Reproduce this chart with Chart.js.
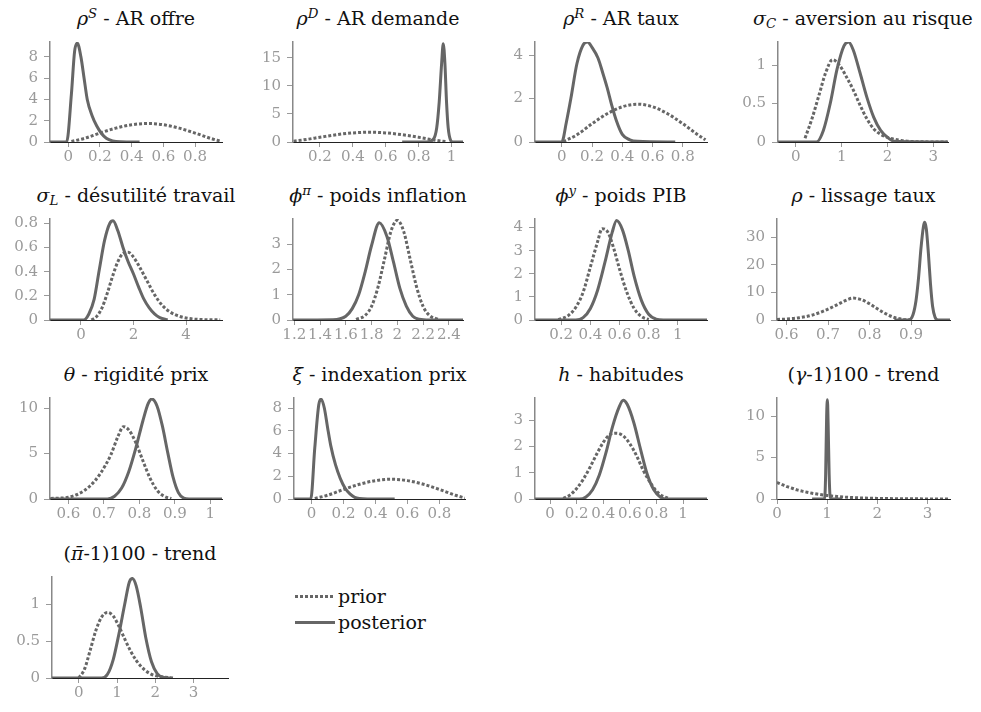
<!DOCTYPE html>
<html>
<head>
<meta charset="utf-8">
<script src="https://cdn.jsdelivr.net/npm/chart.js@4.4.1/dist/chart.umd.min.js"></script>
<style>
  body { margin: 0; background: #fff; }
  #wrap { position: relative; width: 981px; height: 712px; overflow: hidden; }
  canvas { position: absolute; }
  .title { position: absolute; height: 26px; line-height: 26px; text-align: center; white-space: nowrap;
           font-family: "DejaVu Serif", "Liberation Serif", serif; font-size: 19px; color: #111; }
  .title sup, .title sub { font-size: 0.7em; line-height: 0; }
  .title sup { vertical-align: 0.5em; }
  .title sub { vertical-align: -0.25em; }
  .leg { position: absolute; font-family: "DejaVu Serif", "Liberation Serif", serif; font-size: 19px; color: #111; line-height: 20px; }
  .legline { position: absolute; width: 40px; height: 3px; }
</style>
</head>
<body>
<div id="wrap"></div>
<script>
// panel titles
const titles = [
  '<i>ρ</i><sup><i>S</i></sup> - AR offre',
  '<i>ρ</i><sup><i>D</i></sup> - AR demande',
  '<i>ρ</i><sup><i>R</i></sup> - AR taux',
  '<i>σ</i><sub><i>C</i></sub> - aversion au risque',
  '<i>σ</i><sub><i>L</i></sub> - désutilité travail',
  '<i>ϕ</i><sup><i>π</i></sup> - poids inflation',
  '<i>ϕ</i><sup><i>y</i></sup> - poids PIB',
  '<i>ρ</i> - lissage taux',
  '<i>θ</i> - rigidité prix',
  '<i>ξ</i> - indexation prix',
  '<i>h</i> - habitudes',
  '(<i>γ</i>-1)100 - trend',
  '(<i>π̄</i>-1)100 - trend'
];

// axis limits and ticks
const xLimits = [[-0.115, 0.97], [0.036, 1.07], [-0.177, 0.96], [-0.39, 3.32],
                 [-1.18, 5.37], [1.19, 2.51], [0.02, 1.2], [0.577, 0.994],
                 [0.548, 1.033], [-0.11, 0.96], [-0.113, 1.18], [0, 3.45],
                 [-0.7, 3.9]];
const xTicks = [[0, 0.2, 0.4, 0.6, 0.8], [0.2, 0.4, 0.6, 0.8, 1], [0, 0.2, 0.4, 0.6, 0.8], [0, 1, 2, 3],
                [0, 2, 4], [1.2, 1.4, 1.6, 1.8, 2, 2.2, 2.4], [0.2, 0.4, 0.6, 0.8, 1], [0.6, 0.7, 0.8, 0.9],
                [0.6, 0.7, 0.8, 0.9, 1], [0, 0.2, 0.4, 0.6, 0.8], [0, 0.2, 0.4, 0.6, 0.8, 1], [0, 1, 2, 3],
                [0, 1, 2, 3]];
const yTops = [9.4, 17.8, 4.6, 1.3, 0.835, 4.0, 4.37, 36.7, 11.1, 8.9, 3.84, 12.2, 1.37];
const yTicks = [[0, 2, 4, 6, 8], [0, 5, 10, 15], [0, 2, 4], [0, 0.5, 1],
                [0, 0.2, 0.4, 0.6, 0.8], [0, 1, 2, 3], [0, 1, 2, 3, 4], [0, 10, 20, 30],
                [0, 5, 10], [0, 2, 4, 6, 8], [0, 1, 2, 3], [0, 5, 10],
                [0, 0.5, 1]];

// densities, [x, y]
const priorRhoS = [[0.02,0.05],[0.1,0.33],[0.2,0.84],[0.3,1.3],[0.4,1.62],[0.5,1.74],[0.6,1.62],[0.7,1.3],[0.8,0.84],[0.9,0.33],[0.96,0.08]];
const postRhoS = [[-0.115,0],[-0.01,0],[0.02,4.5],[0.04,8.5],[0.057,9.3],[0.08,8.0],[0.1,6.0],[0.12,4.0],[0.15,2.5],[0.18,1.5],[0.21,0.8],[0.24,0.35],[0.28,0.1],[0.33,0.02],[0.45,0]];

const priorRhoD = [[0.04,0.15],[0.1,0.38],[0.2,0.84],[0.3,1.3],[0.4,1.62],[0.5,1.74],[0.6,1.62],[0.7,1.3],[0.8,0.84],[0.9,0.33],[0.97,0.05]];
const postRhoD = [[0.7,0],[0.85,0],[0.89,0.5],[0.91,2.5],[0.925,7],[0.94,14],[0.95,17.5],[0.96,14],[0.97,7],[0.98,2.5],[0.995,0.3],[1.01,0],[1.07,0]];

const priorRhoR = [[0.01,0.02],[0.1,0.33],[0.2,0.84],[0.3,1.3],[0.4,1.62],[0.5,1.74],[0.6,1.62],[0.7,1.3],[0.8,0.84],[0.9,0.33],[0.95,0.1]];
const postRhoR = [[-0.177,0],[0,0],[0.03,0.9],[0.06,2.0],[0.1,3.6],[0.14,4.45],[0.17,4.6],[0.2,4.35],[0.24,3.85],[0.27,3.2],[0.3,2.5],[0.33,1.7],[0.36,1.0],[0.4,0.35],[0.45,0.1],[0.5,0.03],[0.75,0]];

const priorSigC = [[0.2,0.05],[0.35,0.3],[0.5,0.6],[0.65,0.9],[0.8,1.07],[0.95,1.0],[1.1,0.85],[1.25,0.68],[1.4,0.48],[1.55,0.3],[1.7,0.17],[1.85,0.1],[2.0,0.06],[2.3,0.02],[2.6,0.005],[3.3,0]];
const postSigC = [[-0.39,0],[0.45,0],[0.6,0.15],[0.75,0.5],[0.9,0.95],[1.05,1.25],[1.15,1.3],[1.25,1.2],[1.4,0.9],[1.55,0.58],[1.7,0.32],[1.85,0.15],[2.0,0.06],[2.15,0.01],[3.32,0]];

const priorSigL = [[0.4,0],[0.6,0.03],[0.8,0.1],[1.0,0.22],[1.2,0.36],[1.4,0.48],[1.6,0.55],[1.8,0.56],[2.0,0.52],[2.2,0.45],[2.5,0.33],[2.8,0.21],[3.1,0.12],[3.4,0.065],[3.8,0.027],[4.2,0.01],[4.7,0.003],[5.3,0.001]];
const postSigL = [[-1.18,0],[0.1,0],[0.3,0.05],[0.5,0.17],[0.7,0.42],[0.9,0.66],[1.1,0.8],[1.22,0.82],[1.4,0.74],[1.6,0.6],[1.8,0.48],[2.0,0.38],[2.2,0.27],[2.4,0.17],[2.6,0.1],[2.8,0.05],[3.0,0.02],[3.3,0]];

const priorPhiPi = [[1.68,0.02],[1.75,0.18],[1.8,0.54],[1.85,1.3],[1.9,2.4],[1.95,3.5],[2.0,3.95],[2.05,3.5],[2.1,2.4],[2.15,1.3],[2.2,0.54],[2.25,0.18],[2.32,0.02]];
const postPhiPi = [[1.19,0],[1.5,0.01],[1.6,0.15],[1.65,0.45],[1.7,1.0],[1.75,1.9],[1.8,2.95],[1.86,3.85],[1.92,3.3],[1.97,2.3],[2.02,1.25],[2.07,0.55],[2.12,0.15],[2.17,0.03],[2.25,0],[2.51,0]];

const priorPhiY = [[0.18,0.02],[0.25,0.2],[0.3,0.55],[0.35,1.2],[0.4,2.3],[0.45,3.4],[0.48,3.95],[0.52,3.8],[0.56,3.1],[0.6,2.2],[0.65,1.2],[0.7,0.5],[0.75,0.15],[0.8,0.02]];
const postPhiY = [[0.02,0],[0.3,0],[0.35,0.1],[0.4,0.5],[0.45,1.3],[0.5,2.5],[0.55,3.8],[0.58,4.3],[0.62,3.9],[0.66,3.0],[0.7,1.9],[0.75,0.85],[0.8,0.25],[0.85,0.04],[0.9,0],[1.2,0]];

const priorRho = [[0.577,0.2],[0.6,0.35],[0.63,0.8],[0.66,1.7],[0.69,3.3],[0.72,5.4],[0.75,7.6],[0.76,7.95],[0.78,7.4],[0.8,5.9],[0.82,4.0],[0.84,2.2],[0.86,0.9],[0.88,0.25],[0.9,0.05]];
const postRho = [[0.86,0],[0.895,0],[0.905,2],[0.912,7],[0.918,15],[0.924,26],[0.93,34],[0.933,35.5],[0.937,33],[0.942,24],[0.947,13],[0.952,5],[0.958,1],[0.965,0],[0.994,0]];

const priorTheta = [[0.55,0.05],[0.6,0.2],[0.63,0.6],[0.66,1.4],[0.69,2.8],[0.72,4.9],[0.74,6.9],[0.755,7.95],[0.77,7.6],[0.79,6.2],[0.81,4.2],[0.83,2.3],[0.85,0.95],[0.87,0.3],[0.89,0.05]];
const postTheta = [[0.548,0],[0.71,0],[0.73,0.3],[0.75,1.2],[0.77,3.0],[0.79,5.6],[0.81,8.6],[0.825,10.5],[0.835,11],[0.85,10.2],[0.865,8.0],[0.88,5.1],[0.895,2.4],[0.91,0.7],[0.925,0.1],[0.94,0],[1.033,0]];

const priorXi = [[0.02,0.05],[0.1,0.33],[0.2,0.84],[0.3,1.3],[0.4,1.62],[0.5,1.74],[0.6,1.62],[0.7,1.3],[0.8,0.84],[0.9,0.33],[0.96,0.08]];
const postXi = [[-0.11,0],[-0.005,0],[0.02,4.5],[0.045,8.3],[0.06,8.8],[0.08,8.0],[0.1,6.3],[0.12,4.7],[0.15,3.0],[0.18,1.8],[0.21,0.95],[0.24,0.45],[0.27,0.15],[0.3,0.04],[0.35,0],[0.52,0]];

const priorH = [[0.1,0.02],[0.15,0.15],[0.2,0.4],[0.25,0.75],[0.3,1.2],[0.35,1.7],[0.4,2.15],[0.45,2.45],[0.5,2.5],[0.55,2.4],[0.6,2.1],[0.65,1.65],[0.7,1.1],[0.75,0.65],[0.8,0.3],[0.85,0.1],[0.9,0.02]];
const postH = [[-0.113,0],[0.22,0],[0.27,0.08],[0.32,0.35],[0.37,0.9],[0.42,1.75],[0.47,2.75],[0.52,3.5],[0.55,3.75],[0.58,3.6],[0.63,2.9],[0.68,1.9],[0.73,0.95],[0.78,0.35],[0.83,0.07],[0.88,0],[1.18,0]];

const priorGamma = [[0,2.0],[0.1,1.75],[0.2,1.5],[0.3,1.3],[0.4,1.1],[0.5,0.95],[0.6,0.82],[0.7,0.7],[0.8,0.6],[1.0,0.43],[1.2,0.3],[1.4,0.21],[1.7,0.12],[2.0,0.07],[2.5,0.03],[3.0,0.012],[3.45,0.005]];
const postGamma = [[0.7,0],[0.95,0],[0.97,3],[0.99,10],[1.005,12],[1.02,9],[1.04,3],[1.06,0.3],[1.1,0],[1.3,0]];

const priorPiBar = [[0,0],[0.15,0.12],[0.3,0.38],[0.45,0.65],[0.6,0.83],[0.75,0.89],[0.9,0.84],[1.05,0.7],[1.2,0.53],[1.35,0.37],[1.5,0.24],[1.7,0.12],[1.9,0.05],[2.1,0.02],[2.5,0]];
const postPiBar = [[-0.7,0],[0.6,0],[0.75,0.05],[0.9,0.25],[1.05,0.6],[1.2,1.0],[1.32,1.3],[1.4,1.35],[1.5,1.25],[1.62,0.95],[1.75,0.55],[1.9,0.22],[2.05,0.06],[2.2,0.01],[2.4,0]];

const priors = [priorRhoS, priorRhoD, priorRhoR, priorSigC, priorSigL, priorPhiPi, priorPhiY,
                priorRho, priorTheta, priorXi, priorH, priorGamma, priorPiBar];
const posts = [postRhoS, postRhoD, postRhoR, postSigC, postSigL, postPhiPi, postPhiY,
               postRho, postTheta, postXi, postH, postGamma, postPiBar];

// plot boxes on the page: left, right, top, bottom (zero line)
const boxes = [
  [50, 222, 42, 142], [293, 463, 42, 142], [535, 707, 42, 142], [778, 948, 42, 142],
  [50, 222, 219, 320], [293, 463, 219, 320], [535, 707, 219, 320], [777, 950, 219, 320],
  [50, 222, 398, 499], [294, 465, 398, 499], [535, 707, 398, 499], [777, 950, 398, 499],
  [52, 228, 577, 678]
];

const LINE = '#666';
const TICK = '#9a9a9a';
const tickFont = { family: '"DejaVu Serif", "Liberation Serif", serif', size: 15 };
const YW = 50, XH = 28, PADT = 10, PADR = 14;

const wrap = document.getElementById('wrap');
const toPts = arr => arr.map(p => ({ x: p[0], y: p[1] }));
const label = v => String(v);

titles.forEach((t, i) => {
  const [L, R, T, B] = boxes[i];

  const title = document.createElement('div');
  title.className = 'title';
  title.innerHTML = t;
  title.style.left = (L - 60) + 'px';
  title.style.width = (R - L + 120) + 'px';
  title.style.top = (T - 37) + 'px';
  wrap.appendChild(title);

  const cv = document.createElement('canvas');
  cv.width = R - L + YW + PADR;
  cv.height = B - T + PADT + XH;
  cv.style.left = (L - YW) + 'px';
  cv.style.top = (T - PADT) + 'px';
  wrap.appendChild(cv);

  new Chart(cv.getContext('2d'), {
    type: 'line',
    data: {
      datasets: [
        { data: toPts(priors[i]), borderColor: LINE, borderWidth: 3, borderDash: [3, 2],
          borderCapStyle: 'butt', pointRadius: 0, cubicInterpolationMode: 'monotone', fill: false },
        { data: toPts(posts[i]), borderColor: LINE, borderWidth: 3,
          pointRadius: 0, cubicInterpolationMode: 'monotone', fill: false }
      ]
    },
    options: {
      responsive: false,
      animation: false,
      events: [],
      devicePixelRatio: 1,
      layout: { padding: { top: PADT, right: PADR, left: 0, bottom: 0 } },
      plugins: { legend: { display: false }, tooltip: { enabled: false } },
      scales: {
        x: {
          type: 'linear', min: xLimits[i][0], max: xLimits[i][1],
          afterBuildTicks: s => { s.ticks = xTicks[i].map(v => ({ value: v })); },
          afterFit: s => { s.height = XH; s.paddingLeft = 0; s.paddingRight = 0; s.paddingTop = 0; s.paddingBottom = 0; },
          grid: { drawOnChartArea: false, tickLength: 5, color: TICK },
          border: { color: '#222', width: 1 },
          ticks: { autoSkip: false, maxRotation: 0, padding: 1, color: TICK, font: tickFont, callback: label }
        },
        y: {
          type: 'linear', min: 0, max: yTops[i],
          afterBuildTicks: s => { s.ticks = yTicks[i].map(v => ({ value: v })); },
          afterFit: s => { s.width = YW; s.paddingLeft = 0; s.paddingRight = 0; s.paddingTop = 0; s.paddingBottom = 0; },
          grid: { drawOnChartArea: false, tickLength: 6, color: TICK },
          border: { color: '#888', width: 1.5 },
          ticks: { padding: 6, color: TICK, font: tickFont, callback: label }
        }
      }
    }
  });
});

// legend
const legend = [['prior', true, 596], ['posterior', false, 622]];
legend.forEach(([name, dotted, y]) => {
  const ln = document.createElement('div');
  ln.className = 'legline';
  ln.style.left = '295px';
  ln.style.top = (y - 1) + 'px';
  ln.style.background = dotted
    ? 'repeating-linear-gradient(90deg, #666 0 3px, transparent 3px 5px)'
    : '#666';
  wrap.appendChild(ln);
  const tx = document.createElement('div');
  tx.className = 'leg';
  tx.textContent = name;
  tx.style.left = '338px';
  tx.style.top = (y - 10) + 'px';
  wrap.appendChild(tx);
});
</script>
</body>
</html>
